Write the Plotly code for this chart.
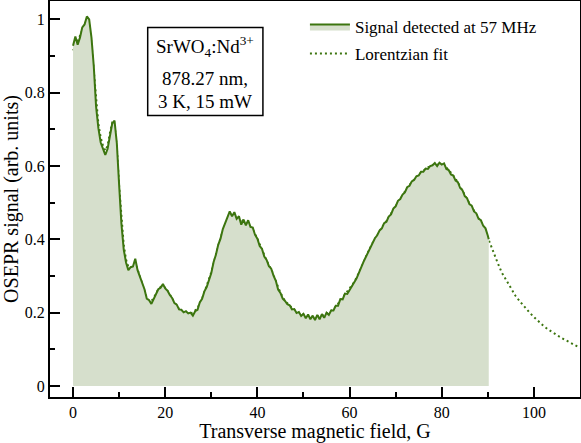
import plotly.graph_objects as go

# OSEPR scan, SrWO4:Nd3+ at 878.27 nm
signal_field = [
    0.0, 0.5, 1.0, 1.5, 2.0, 2.5, 3.0, 3.5, 4.0, 4.5, 5.0, 5.5, 6.0, 6.5, 7.0, 7.5,
    8.0, 8.5, 9.0, 9.5, 10.0, 10.5, 11.0, 11.5, 12.0, 12.5, 13.0, 13.5, 14.0, 14.5,
    15.0, 15.5, 16.0, 16.5, 17.0, 17.5, 18.0, 18.5, 19.0, 19.5, 20.0, 20.5, 21.0,
    21.5, 22.0, 22.5, 23.0, 23.5, 24.0, 24.5, 25.0, 25.5, 26.0, 26.5, 27.0, 27.5,
    28.0, 28.5, 29.0, 29.5, 30.0, 30.5, 31.0, 31.5, 32.0, 32.5, 33.0, 33.5, 34.0,
    34.5, 35.0, 35.5, 36.0, 36.5, 37.0, 37.5, 38.0, 38.5, 39.0, 39.5, 40.0, 40.5,
    41.0, 41.5, 42.0, 42.5, 43.0, 43.5, 44.0, 44.5, 45.0, 45.5, 46.0, 46.5, 47.0,
    47.5, 48.0, 48.5, 49.0, 49.5, 50.0, 50.5, 51.0, 51.5, 52.0, 52.5, 53.0, 53.5,
    54.0, 54.5, 55.0, 55.5, 56.0, 56.5, 57.0, 57.5, 58.0, 58.5, 59.0, 59.5, 60.0,
    60.5, 61.0, 61.5, 62.0, 62.5, 63.0, 63.5, 64.0, 64.5, 65.0, 65.5, 66.0, 66.5,
    67.0, 67.5, 68.0, 68.5, 69.0, 69.5, 70.0, 70.5, 71.0, 71.5, 72.0, 72.5, 73.0,
    73.5, 74.0, 74.5, 75.0, 75.5, 76.0, 76.5, 77.0, 77.5, 78.0, 78.5, 79.0, 79.5,
    80.0, 80.5, 81.0, 81.5, 82.0, 82.5, 83.0, 83.5, 84.0, 84.5, 85.0, 85.5, 86.0,
    86.5, 87.0, 87.5, 88.0, 88.5, 89.0, 89.5, 90.0, 90.2,
]
signal_value = [
    0.928, 0.953, 0.931, 0.950, 0.978, 0.986, 1.008, 1.000, 0.950, 0.872, 0.762,
    0.703, 0.664, 0.648, 0.630, 0.647, 0.682, 0.716, 0.724, 0.662, 0.548, 0.442,
    0.372, 0.337, 0.316, 0.324, 0.326, 0.347, 0.316, 0.300, 0.279, 0.264, 0.238,
    0.234, 0.224, 0.238, 0.250, 0.264, 0.268, 0.278, 0.266, 0.260, 0.248, 0.240,
    0.226, 0.222, 0.209, 0.208, 0.201, 0.204, 0.198, 0.200, 0.192, 0.204, 0.208,
    0.228, 0.238, 0.258, 0.270, 0.292, 0.308, 0.338, 0.358, 0.385, 0.402, 0.428,
    0.444, 0.458, 0.476, 0.463, 0.474, 0.456, 0.463, 0.440, 0.454, 0.438, 0.452,
    0.434, 0.432, 0.412, 0.402, 0.382, 0.374, 0.353, 0.344, 0.327, 0.320, 0.301,
    0.287, 0.263, 0.254, 0.238, 0.232, 0.223, 0.220, 0.209, 0.210, 0.199, 0.202,
    0.191, 0.197, 0.185, 0.195, 0.182, 0.192, 0.180, 0.194, 0.182, 0.196, 0.186,
    0.200, 0.194, 0.206, 0.206, 0.219, 0.219, 0.237, 0.236, 0.252, 0.251, 0.262,
    0.270, 0.280, 0.293, 0.308, 0.326, 0.338, 0.351, 0.364, 0.379, 0.388, 0.403,
    0.411, 0.424, 0.430, 0.444, 0.448, 0.462, 0.468, 0.484, 0.490, 0.505, 0.510,
    0.522, 0.528, 0.542, 0.546, 0.558, 0.562, 0.572, 0.574, 0.584, 0.584, 0.593,
    0.592, 0.600, 0.602, 0.608, 0.600, 0.609, 0.604, 0.607, 0.592, 0.589, 0.577,
    0.574, 0.560, 0.556, 0.540, 0.534, 0.518, 0.512, 0.496, 0.492, 0.476, 0.471,
    0.456, 0.452, 0.437, 0.430, 0.410, 0.400,
]

fit_field = [
    0, 0.5, 1, 1.5, 2, 2.5, 3, 3.5, 4, 4.5, 5, 5.5, 6, 6.5, 7, 7.5, 8, 8.5, 9, 9.5,
    10, 10.5, 11, 11.5, 12, 12.5, 13, 13.5, 14, 14.5, 15, 15.5, 16, 16.5, 17, 17.5,
    18, 18.5, 19, 19.5, 20, 21, 22, 23, 24, 25, 26, 27, 28, 29, 30, 31, 32, 33, 34,
    35, 36, 37, 38, 39, 40, 41, 42, 43, 44, 45, 46, 47, 48, 49, 50, 51, 52, 53, 54,
    55, 56, 57, 58, 59, 60, 61, 62, 63, 64, 65, 66, 67, 68, 69, 70, 71, 72, 73, 74,
    75, 76, 77, 78, 79, 80, 81, 82, 83, 84, 85, 86, 87, 88, 89, 90, 91, 92, 93, 94,
    95, 96, 97, 98, 99, 100, 101, 102, 103, 104, 105, 106, 107, 108, 109, 110,
]
fit_value = [
    0.915, 0.925, 0.940, 0.955, 0.972, 0.988, 1.000, 0.985, 0.935, 0.860, 0.775,
    0.715, 0.678, 0.655, 0.642, 0.655, 0.690, 0.718, 0.715, 0.650, 0.545, 0.450,
    0.385, 0.345, 0.325, 0.322, 0.328, 0.335, 0.318, 0.298, 0.278, 0.258, 0.240,
    0.232, 0.232, 0.240, 0.253, 0.264, 0.270, 0.272, 0.268, 0.250, 0.228, 0.210,
    0.200, 0.197, 0.200, 0.212, 0.238, 0.272, 0.310, 0.358, 0.404, 0.440, 0.462,
    0.466, 0.458, 0.448, 0.440, 0.426, 0.402, 0.372, 0.342, 0.318, 0.286, 0.254,
    0.232, 0.218, 0.207, 0.199, 0.194, 0.190, 0.188, 0.189, 0.192, 0.197, 0.205,
    0.216, 0.232, 0.250, 0.265, 0.283, 0.308, 0.338, 0.365, 0.390, 0.413, 0.432,
    0.450, 0.470, 0.492, 0.512, 0.530, 0.548, 0.563, 0.576, 0.587, 0.596, 0.602,
    0.604, 0.603, 0.596, 0.582, 0.565, 0.544, 0.520, 0.498, 0.478, 0.458, 0.437,
    0.405, 0.370, 0.340, 0.310, 0.288, 0.265, 0.246, 0.230, 0.214, 0.201, 0.188,
    0.176, 0.165, 0.155, 0.146, 0.139, 0.131, 0.124, 0.117, 0.110, 0.104,
]

# sample label, one entry per line of the boxed note
sample_lines = ["SrWO<sub>4</sub>:Nd<sup>3+</sup>", "878.27 nm,", "3 K, 15 mW"]

LINE_GREEN = "#3c750f"
FILL_GREEN = "#d6dfcc"
FONT = "Liberation Serif"

fig = go.Figure()

fig.add_trace(
    go.Scatter(
        x=fit_field,
        y=fit_value,
        mode="lines",
        name="Lorentzian fit",
        line=dict(color=LINE_GREEN, width=2, dash="2px,3px"),
        legendrank=2,
        legendgroup="fit",
    )
)

fig.add_trace(
    go.Scatter(
        x=signal_field,
        y=signal_value,
        mode="lines",
        name="Signal detected at 57 MHz",
        line=dict(color=LINE_GREEN, width=2),
        fill="tozeroy",
        fillcolor=FILL_GREEN,
        legendrank=1,
        legendgroup="signal",
    )
)

# boxed sample note
fig.add_shape(
    type="rect",
    xref="x",
    yref="y",
    x0=16.2,
    x1=41.2,
    y0=0.738,
    y1=0.978,
    line=dict(color="black", width=1.5),
    fillcolor="white",
    layer="above",
)
for text, ypos in zip(sample_lines, [0.926, 0.840, 0.775]):
    fig.add_annotation(
        x=28.7,
        y=ypos,
        xref="x",
        yref="y",
        xanchor="center",
        yanchor="middle",
        text=text,
        showarrow=False,
        font=dict(family=FONT, size=19, color="black"),
    )

axis_common = dict(
    showline=True,
    linecolor="black",
    linewidth=2,
    mirror=True,
    ticks="inside",
    ticklen=10,
    tickwidth=1.5,
    tickcolor="black",
    showgrid=False,
    zeroline=False,
    automargin=False,
    tickfont=dict(family=FONT, size=16, color="black"),
)

fig.update_xaxes(
    range=[-5, 110],
    dtick=20,
    tick0=0,
    minor=dict(dtick=10, ticks="inside", ticklen=5, tickwidth=1.5, tickcolor="black"),
    title=dict(text="Transverse magnetic field, G", font=dict(family=FONT, size=20, color="black"), standoff=4),
    **axis_common,
)
fig.update_yaxes(
    range=[-0.03, 1.05],
    dtick=0.2,
    tick0=0,
    minor=dict(dtick=0.1, ticks="inside", ticklen=5, tickwidth=1.5, tickcolor="black"),
    title=dict(text="OSEPR signal (arb. units)", font=dict(family=FONT, size=20, color="black"), standoff=10),
    **axis_common,
)

fig.update_layout(
    width=581,
    height=443,
    margin=dict(l=50, r=1, t=1, b=46),
    paper_bgcolor="white",
    plot_bgcolor="white",
    font=dict(family=FONT, color="black"),
    legend=dict(
        x=0.481,
        y=0.980,
        xanchor="left",
        yanchor="top",
        bgcolor="rgba(0,0,0,0)",
        font=dict(family=FONT, size=17, color="black"),
        itemwidth=40,
        tracegroupgap=2,
    ),
)

# the default page keeps an 8px body margin; drop it so the figure sits at the corner
fig.write_html(
    "out.html",
    config={"displayModeBar": False},
    post_script="document.body.style.margin = '0';",
)
